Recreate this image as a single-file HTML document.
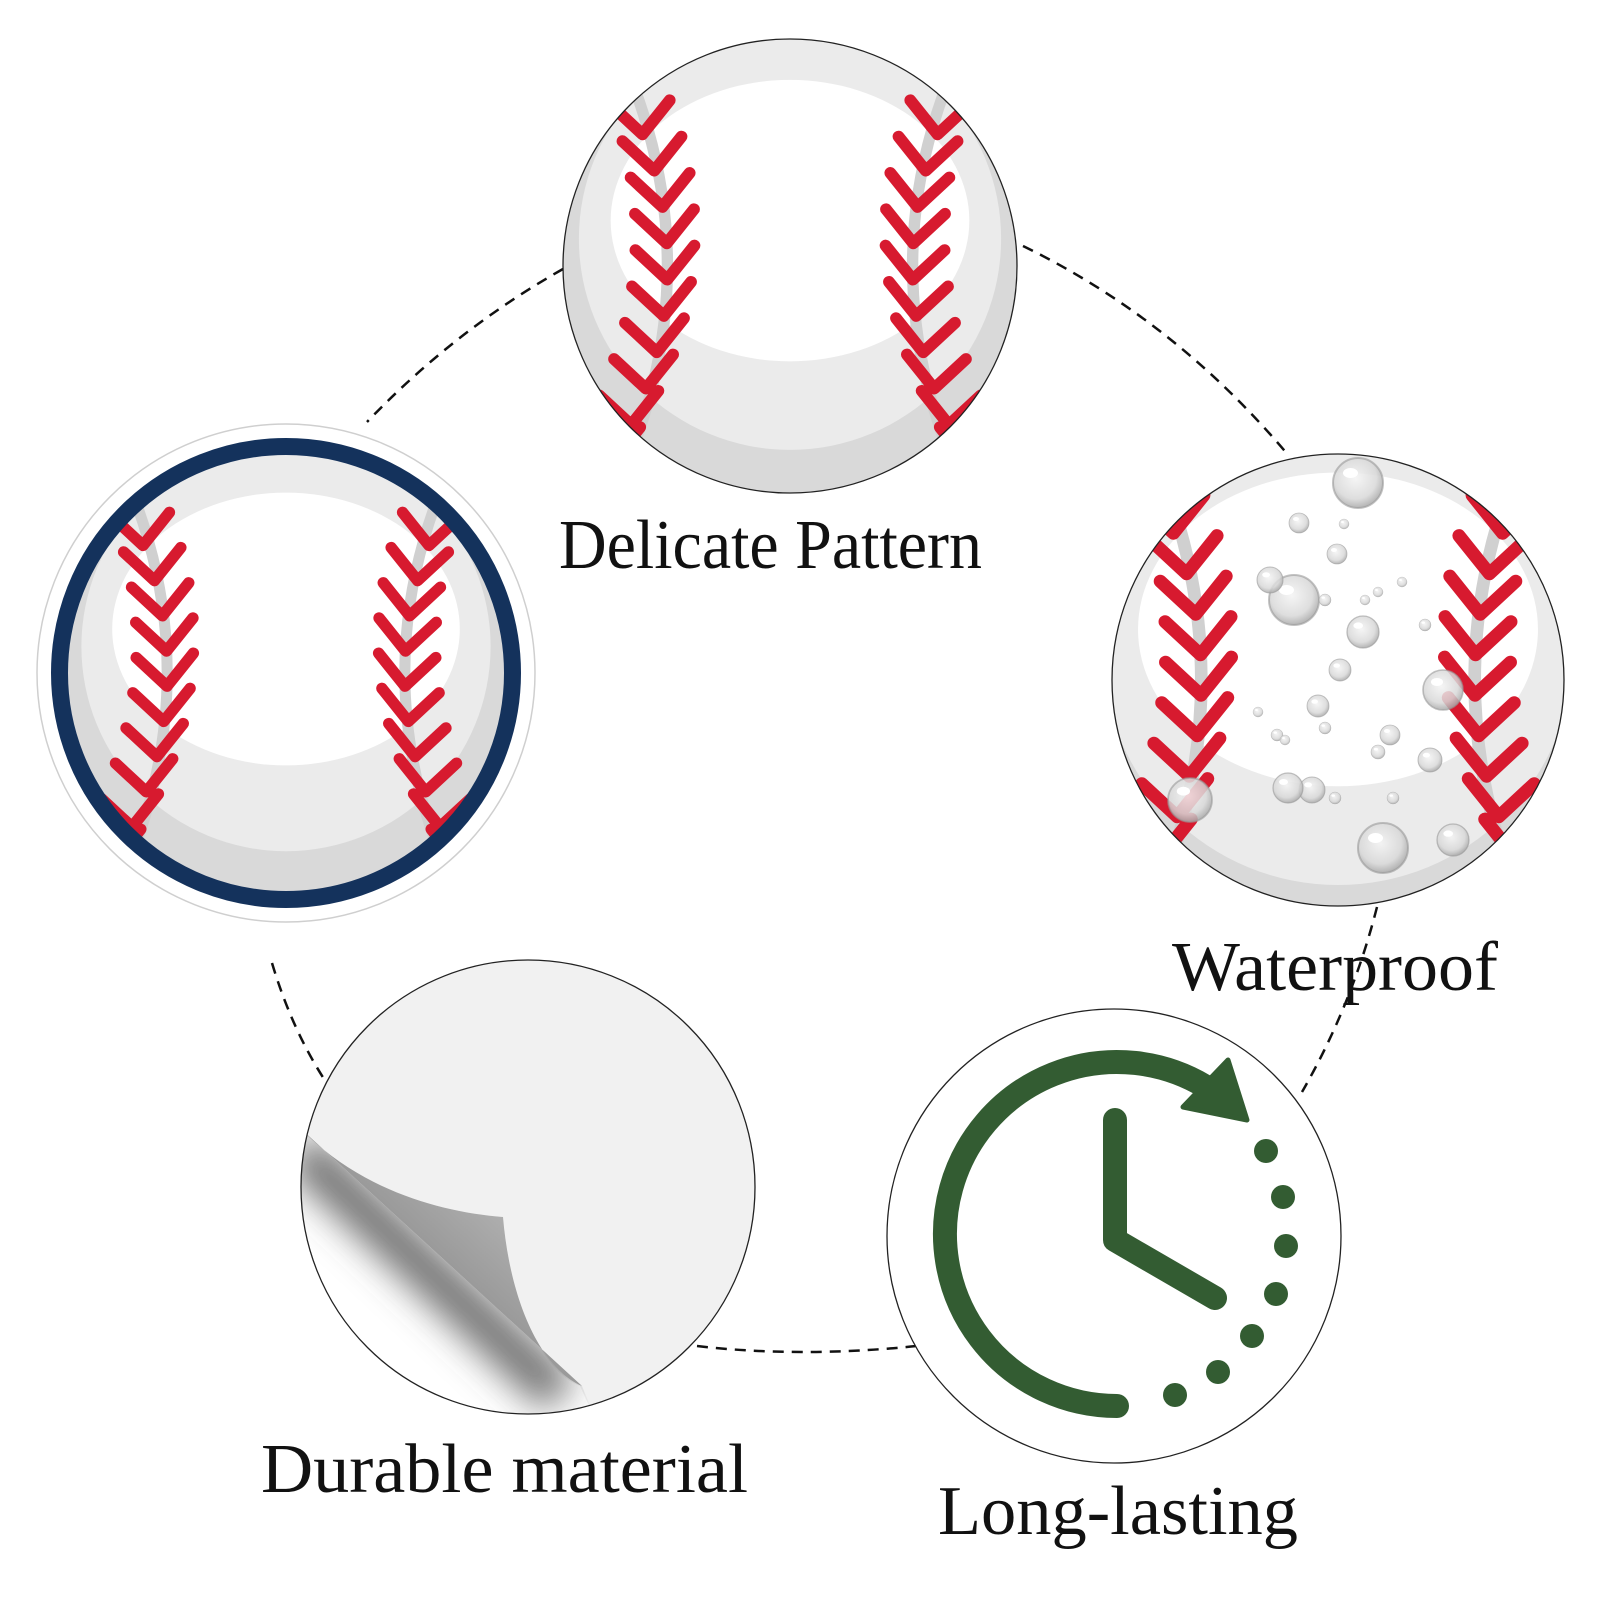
<!DOCTYPE html>
<html><head><meta charset="utf-8"><style>html,body{margin:0;padding:0;background:#fff}svg{display:block}</style></head>
<body>
<svg width="1601" height="1601" viewBox="0 0 1601 1601" xmlns="http://www.w3.org/2000/svg">
<defs>
<clipPath id="c100"><circle r="100"/></clipPath>
<g id="seamL">
<path d="M-74 -92 Q-34 0 -74 92" fill="none" stroke="#d0d0d0" stroke-width="5"/>
<path fill="none" stroke="#d71a2f" stroke-width="5.2" stroke-linecap="round" stroke-linejoin="round" d="M-86 -87L-72 -74L-60 -89M-79 -71L-65 -58L-53 -73M-73.8 -55L-59.8 -42L-47.8 -57M-70.2 -39L-56.2 -26L-44.2 -41M-68.3 -23L-54.3 -10L-42.3 -25M-68.1 -7L-54.1 6L-42.1 -9M-69.6 9L-55.6 22L-43.6 7M-72.7 25L-58.7 38L-46.7 23M-77.5 41L-63.5 54L-51.5 39M-84 57L-70 70L-58 55M-92 73L-78 86L-66 71"/>
</g>
<g id="ballInner">
<circle r="110" fill="#d9d9d9"/>
<circle cy="-12" r="93" fill="#ebebeb"/>
<ellipse cy="-20" rx="79" ry="62" fill="#fff"/>
<use href="#seamL"/>
<use href="#seamL" transform="scale(-1,1)"/>
</g>
<radialGradient id="dg" cx="0.45" cy="0.4" r="0.6">
<stop offset="0" stop-color="#f4f4f4"/><stop offset="0.7" stop-color="#d8d8d8"/><stop offset="1" stop-color="#a8a8a8"/>
</radialGradient>
<g id="drop"><circle r="10" fill="url(#dg)" fill-opacity="0.85" stroke="#9a9a9a" stroke-opacity="0.6" stroke-width="0.8"/><ellipse cx="-3" cy="-4" rx="3" ry="2" fill="#fff"/></g>
<linearGradient id="flap" x1="0" y1="0" x2="1" y2="-1" gradientUnits="objectBoundingBox">
<stop offset="0" stop-color="#9a9a9a"/><stop offset="0.6" stop-color="#dadada"/><stop offset="1" stop-color="#f0f0f0"/>
</linearGradient>
<filter id="blur" x="-50%" y="-50%" width="200%" height="200%"><feGaussianBlur stdDeviation="18"/></filter>
<clipPath id="peelclip"><circle cx="528" cy="1187" r="227"/></clipPath>
<clipPath id="exposed"><path d="M300 1128 L582 1386 L600 1430 L280 1430 Z"/></clipPath>
</defs>

<g fill="none" stroke="#111" stroke-width="2.5" stroke-dasharray="11 8">
<path d="M563 269 Q455 330 367 422"/>
<path d="M1023 246 Q1175 320 1289 456"/>
<path d="M1377 907 Q1352 1005 1302 1092"/>
<path d="M697 1346 Q800 1358 917 1346"/>
<path d="M272 963 Q292 1030 326 1082"/>
</g>

<g transform="translate(790,266) scale(2.27)"><g clip-path="url(#c100)"><use href="#ballInner"/></g></g>
<circle cx="790" cy="266" r="227" fill="none" stroke="#222" stroke-width="1.3"/>

<circle cx="286" cy="673" r="249" fill="#fff" stroke="#cfcfcf" stroke-width="1.5"/>
<g transform="translate(286,673) scale(2.2)"><g clip-path="url(#c100)"><use href="#ballInner"/></g></g>
<circle cx="286" cy="673" r="226.5" fill="none" stroke="#14325c" stroke-width="17"/>

<g transform="translate(1338,680) scale(2.26)"><g clip-path="url(#c100)"><use href="#ballInner" transform="scale(1.12)"/></g></g>
<g>
<use href="#drop" transform="translate(1358,483) scale(2.5)"/>
<use href="#drop" transform="translate(1294,600) scale(2.5)"/>
<use href="#drop" transform="translate(1363,632) scale(1.6)"/>
<use href="#drop" transform="translate(1270,580) scale(1.3)"/>
<use href="#drop" transform="translate(1299,523) scale(1)"/>
<use href="#drop" transform="translate(1337,554) scale(1)"/>
<use href="#drop" transform="translate(1340,670) scale(1.1)"/>
<use href="#drop" transform="translate(1318,706) scale(1.1)"/>
<use href="#drop" transform="translate(1312,790) scale(1.3)"/>
<use href="#drop" transform="translate(1288,788) scale(1.5)"/>
<use href="#drop" transform="translate(1383,848) scale(2.5)"/>
<use href="#drop" transform="translate(1453,840) scale(1.6)"/>
<use href="#drop" transform="translate(1430,760) scale(1.2)"/>
<use href="#drop" transform="translate(1390,735) scale(1)"/>
<use href="#drop" transform="translate(1443,690) scale(2)"/>
<use href="#drop" transform="translate(1190,800) scale(2.2)"/>
<use href="#drop" transform="translate(1325,728) scale(0.6)"/>
<use href="#drop" transform="translate(1277,735) scale(0.6)"/>
<use href="#drop" transform="translate(1258,712) scale(0.5)"/>
<use href="#drop" transform="translate(1285,740) scale(0.5)"/>
<use href="#drop" transform="translate(1365,600) scale(0.5)"/>
<use href="#drop" transform="translate(1378,592) scale(0.5)"/>
<use href="#drop" transform="translate(1402,582) scale(0.5)"/>
<use href="#drop" transform="translate(1344,524) scale(0.5)"/>
<use href="#drop" transform="translate(1378,752) scale(0.7)"/>
<use href="#drop" transform="translate(1425,625) scale(0.6)"/>
<use href="#drop" transform="translate(1325,600) scale(0.6)"/>
<use href="#drop" transform="translate(1335,798) scale(0.6)"/>
<use href="#drop" transform="translate(1393,798) scale(0.6)"/>
</g>
<circle cx="1338" cy="680" r="226" fill="none" stroke="#222" stroke-width="1.3"/>

<g clip-path="url(#peelclip)">
<rect x="290" y="950" width="480" height="480" fill="#f1f1f1"/>
<path d="M300 1128 C360 1190 440 1212 503 1217 C510 1300 540 1370 580 1386 L600 1430 L280 1430 Z" fill="#fff"/>
<g clip-path="url(#exposed)">
<path d="M300 1150 L560 1395" stroke="#555" stroke-width="45" stroke-opacity="0.85" filter="url(#blur)" fill="none"/>
</g>
<path d="M300 1128 C360 1190 440 1212 503 1217 C510 1300 540 1368 582 1386 Z" fill="url(#flap)"/>
</g>
<circle cx="528" cy="1187" r="227" fill="none" stroke="#222" stroke-width="1.3"/>

<circle cx="1114" cy="1236" r="227" fill="#fff" stroke="#222" stroke-width="1.3"/>
<g fill="#335c32" stroke="#335c32">
<path d="M1117 1406 A172 172 0 1 1 1205.6 1086.6" fill="none" stroke-width="24" stroke-linecap="round"/>
<polygon points="1228,1060 1247,1120 1183,1107" stroke-width="5" stroke-linejoin="round"/>
<path d="M1115 1120 L1115 1240 L1215 1298" fill="none" stroke-width="24" stroke-linecap="round" stroke-linejoin="round"/>
<g stroke="none">
<circle cx="1266" cy="1151" r="12"/><circle cx="1283" cy="1197" r="12"/><circle cx="1286" cy="1246" r="12"/>
<circle cx="1276" cy="1294" r="12"/><circle cx="1252" cy="1336" r="12"/><circle cx="1218" cy="1372" r="12"/><circle cx="1175" cy="1395" r="12"/>
</g>
</g>

<g font-family="'Liberation Serif', serif" fill="#111" font-size="70">
<text x="559" y="568" textLength="423" lengthAdjust="spacingAndGlyphs">Delicate Pattern</text>
<text x="1172" y="990" textLength="326" lengthAdjust="spacingAndGlyphs">Waterproof</text>
<text x="261" y="1492" textLength="487" lengthAdjust="spacingAndGlyphs">Durable material</text>
<text x="938" y="1534" textLength="360" lengthAdjust="spacingAndGlyphs">Long-lasting</text>
</g>
</svg>
</body></html>
